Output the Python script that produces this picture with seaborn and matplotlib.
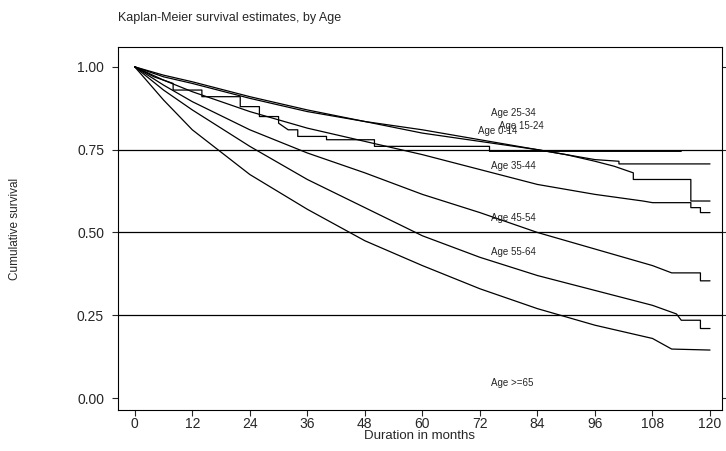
import matplotlib
matplotlib.use("Agg")
import matplotlib.pyplot as plt
import seaborn as sns
import pandas as pd

sns.set_style("white")
plt.rcParams['font.family'] = ['Liberation Sans', 'DejaVu Sans']

# Age 0-14 (stepwise)
m014 = [0, 4, 8, 8, 14, 14, 22, 22, 26, 26, 30, 30, 32, 34, 34, 40, 40, 50, 50, 74, 74, 114]
s014 = [1.0, 0.97, 0.95, 0.93, 0.93, 0.91, 0.91, 0.88, 0.88, 0.85, 0.85, 0.83, 0.81, 0.81, 0.79, 0.79, 0.78, 0.78, 0.76, 0.76, 0.745, 0.745]
# Age 15-24
m1524 = [0, 6, 12, 24, 36, 48, 60, 72, 84, 90, 96, 101, 101, 120]
s1524 = [1.0, 0.97, 0.95, 0.905, 0.865, 0.835, 0.81, 0.78, 0.75, 0.735, 0.72, 0.715, 0.707, 0.707]
# Age 25-34
m2534 = [0, 6, 12, 24, 36, 48, 60, 72, 84, 90, 96, 100, 104, 104, 116, 116, 120]
s2534 = [1.0, 0.975, 0.955, 0.91, 0.87, 0.835, 0.80, 0.775, 0.75, 0.735, 0.715, 0.70, 0.68, 0.66, 0.66, 0.595, 0.595]
# Age 35-44
m3544 = [0, 6, 12, 24, 36, 48, 60, 72, 84, 96, 106, 108, 116, 116, 118, 118, 120]
s3544 = [1.0, 0.96, 0.925, 0.865, 0.815, 0.775, 0.735, 0.69, 0.645, 0.615, 0.595, 0.59, 0.59, 0.575, 0.575, 0.56, 0.56]
# Age 45-54
m4554 = [0, 6, 12, 24, 36, 48, 60, 72, 84, 96, 108, 112, 118, 118, 120]
s4554 = [1.0, 0.945, 0.895, 0.81, 0.74, 0.68, 0.615, 0.56, 0.50, 0.45, 0.40, 0.378, 0.378, 0.354, 0.354]
# Age 55-64
m5564 = [0, 6, 12, 24, 36, 48, 60, 72, 84, 96, 108, 113, 114, 118, 118, 120]
s5564 = [1.0, 0.93, 0.87, 0.76, 0.66, 0.575, 0.49, 0.425, 0.37, 0.325, 0.28, 0.254, 0.235, 0.235, 0.21, 0.21]
# Age >=65
m65 = [0, 6, 12, 24, 36, 48, 60, 72, 84, 96, 108, 112, 120]
s65 = [1.0, 0.9, 0.81, 0.675, 0.57, 0.475, 0.40, 0.33, 0.27, 0.22, 0.18, 0.148, 0.145]

groups = [("Age 0-14", m014, s014), ("Age 15-24", m1524, s1524), ("Age 25-34", m2534, s2534),
          ("Age 35-44", m3544, s3544), ("Age 45-54", m4554, s4554), ("Age 55-64", m5564, s5564),
          ("Age >=65", m65, s65)]
label_pos = {"Age 25-34": (74.3, 0.86), "Age 15-24": (76.0, 0.822), "Age 0-14": (71.5, 0.805),
             "Age 35-44": (74.3, 0.70), "Age 45-54": (74.3, 0.545), "Age 55-64": (74.3, 0.44),
             "Age >=65": (74.3, 0.045)}

fig = plt.figure(figsize=(7.26, 4.51), dpi=100)
ax = fig.add_axes([118/726, 41/451, 604/726, 363/451])
for y in [0.25, 0.5, 0.75]:
    ax.axhline(y, color="black", lw=0.9)
for name, m, s in groups:
    df = pd.DataFrame({"m": m, "s": s})
    sns.lineplot(data=df, x="m", y="s", ax=ax, color="black", lw=0.9, sort=False, estimator=None)
    x, y = label_pos[name]
    ax.text(x, y, name, fontsize=7, ha="left", va="center")

ax.set_xlim(-3.5, 122.5)
ax.set_ylim(-0.036, 1.06)
ax.set_xticks(range(0, 121, 12))
ax.set_yticks([0, 0.25, 0.5, 0.75, 1.0])
ax.set_yticklabels(["0.00", "0.25", "0.50", "0.75", "1.00"])
ax.tick_params(axis="both", direction="out", length=4, labelsize=10, width=0.8,
               left=True, bottom=True)
ax.tick_params(axis="y", which="both", right=True, pad=6)
ax.tick_params(axis="x", pad=1)
for sp in ax.spines.values():
    sp.set_color("black"); sp.set_linewidth(0.8)
ax.set_xlabel("Duration in months", fontsize=9.5, labelpad=-1)
ax.set_ylabel("Cumulative survival", fontsize=8.5, labelpad=40)
fig.text(118/726, 1 - 18/451, "Kaplan-Meier survival estimates, by Age", fontsize=9, va="center")
fig.savefig("out.png", dpi=100)
